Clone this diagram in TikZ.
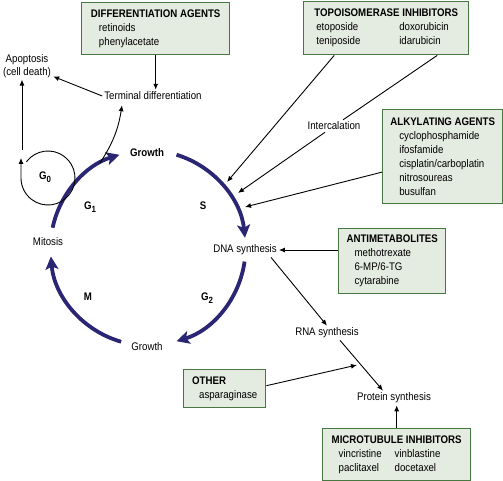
\documentclass[tikz,border=0pt]{standalone}
\usepackage{fontspec}
\setmainfont{Liberation Sans}[FakeStretch=0.88]
\usepackage{tikz}
\usetikzlibrary{arrows.meta}

\definecolor{cyclenavy}{RGB}{42,38,115}
\definecolor{agentgreen}{RGB}{72,120,66}
\definecolor{agentfill}{RGB}{228,235,224}
\newcommand{\phasesub}[1]{\raisebox{-2.8pt}{\fontsize{9}{9}\selectfont\bfseries #1}}

\begin{document}
\begin{tikzpicture}[x=1pt, y=-1pt,
    agentbox/.style={rectangle, draw=agentgreen, fill=agentfill, line width=1.4pt, anchor=north west, align=left, inner sep=0pt, font=\fontsize{11}{14}\selectfont},
    stage/.style={inner sep=2pt, align=center, font=\fontsize{11}{12.5}\selectfont},
    phase/.style={inner sep=1pt, font=\fontsize{11}{12}\selectfont\bfseries},
    cyclearrow/.style={draw=cyclenavy, line width=3.8pt, -{Stealth[length=13pt, width=13pt, inset=3pt]}},
    drugarrow/.style={line width=0.9pt, -{Latex[length=6pt, width=5pt]}}]
  \useasboundingbox (0,0) rectangle (503,481);

  % Cell cycle
  \coordinate (cyc) at (148,248);
  \node[stage, font=\fontsize{11}{12}\selectfont\bfseries] (growthtop) at (147,153) {Growth};
  \node[stage] (dna) at (245,250) {DNA synthesis};
  \node[stage] (growthbot) at (147,347) {Growth};
  \node[stage] (mitosis) at (48,242) {Mitosis};
  \draw[cyclearrow] (cyc) ++(192:97.5) arc[start angle=192, end angle=253, radius=97.5];
  \draw[cyclearrow] (cyc) ++(287:97.5) arc[start angle=287, end angle=354, radius=97.5];
  \draw[cyclearrow] (cyc) ++(8:97.5) arc[start angle=8, end angle=73, radius=97.5];
  \draw[cyclearrow] (cyc) ++(106:97.5) arc[start angle=106, end angle=175, radius=97.5];

  % Phases
  \node[phase] (gzero) at (45,177) {G\phasesub{0}};
  \node[phase] (gone) at (90,207) {G\phasesub{1}};
  \node[phase] (sphase) at (203,206) {S};
  \node[phase] (gtwo) at (207,298) {G\phasesub{2}};
  \node[phase] (mphase) at (88,297) {M};

  % Resting loop
  \coordinate (gzeroloop) at (48,178);
  \draw[drugarrow] (gzeroloop) ++(217:27) arc[start angle=217, end angle=540, radius=27] -- ++(0,-20);

  % Outcomes
  \node[stage] (termdiff) at (153,96) {Terminal differentiation};
  \node[stage] (apop) at (27,66) {Apoptosis\\(cell death)};
  \coordinate (apopfoot) at (22,150);
  \coordinate (tdfoot) at (100,163);
  \draw[drugarrow] (apopfoot) -- (apopfoot |- apop.south);
  \draw[drugarrow] (termdiff.west) -- (apop);
  \draw[drugarrow] (tdfoot) to[bend right=12] ([xshift=-31pt, yshift=-3pt]termdiff.south);

  % Differentiation agents
  \node[agentbox, minimum width=148pt, minimum height=52pt] (diffag) at (81,2) {\textbf{DIFFERENTIATION AGENTS}\\\hspace*{8pt}retinoids\\\hspace*{8pt}phenylacetate};
  \draw[drugarrow] (diffag.south) -- (diffag.south |- termdiff.north);

  % Topoisomerase inhibitors
  \node[agentbox, minimum width=165pt, minimum height=53pt] (topo) at (303,1) {\textbf{TOPOISOMERASE INHIBITORS}\\\hspace*{2pt}\makebox[83pt][l]{etoposide}doxorubicin\\\hspace*{2pt}\makebox[83pt][l]{teniposide}idarubicin};
  \node[stage] (intercal) at (334,126) {Intercalation};
  \coordinate (sfoot1) at (227,182);
  \coordinate (sfoot2) at (238,193);
  \coordinate (sfoot3) at (245,207);
  \draw[drugarrow] ([xshift=-52pt]topo.south) -- (sfoot1);
  \draw[line width=0.9pt] ([xshift=51pt]topo.south) -- (intercal);
  \draw[drugarrow] (intercal) -- (sfoot2);

  % Alkylating agents
  \node[agentbox, minimum width=120pt, minimum height=94pt] (alk) at (382,109) {\textbf{ALKYLATING AGENTS}\\\hspace*{9pt}cyclophosphamide\\\hspace*{9pt}ifosfamide\\\hspace*{9pt}cisplatin/carboplatin\\\hspace*{9pt}nitrosoureas\\\hspace*{9pt}busulfan};
  \draw[drugarrow] (alk) -- (sfoot3);

  % Antimetabolites
  \node[agentbox, minimum width=107pt, minimum height=65pt] (anti) at (338,228) {\textbf{ANTIMETABOLITES}\\\hspace*{8pt}methotrexate\\\hspace*{8pt}6-MP/6-TG\\\hspace*{8pt}cytarabine};
  \draw[drugarrow] (anti.west |- dna) -- (dna.east);

  % Downstream synthesis
  \node[stage] (rna) at (327,333) {RNA synthesis};
  \node[stage] (prot) at (394,398) {Protein synthesis};
  \draw[drugarrow] ([xshift=-8pt]dna.south east) -- (rna.north);
  \draw[drugarrow] ([xshift=13pt]rna.south) -- ([xshift=-11pt]prot.north);

  % Other
  \node[agentbox, minimum width=82pt, minimum height=38pt] (other) at (183,369) {\textbf{OTHER}\\\hspace*{7pt}asparaginase};
  \coordinate (asptip) at (357,365);
  \draw[drugarrow] ([yshift=3pt]other.east) -- (asptip);

  % Microtubule inhibitors
  \node[agentbox, minimum width=148pt, minimum height=52pt] (micro) at (322,428) {\textbf{MICROTUBULE INHIBITORS}\\\hspace*{7pt}\makebox[56pt][l]{vincristine}vinblastine\\\hspace*{7pt}\makebox[56pt][l]{paclitaxel}docetaxel};
  \draw[drugarrow] (micro.north) -- (micro.north |- prot.south);
\end{tikzpicture}
\end{document}
